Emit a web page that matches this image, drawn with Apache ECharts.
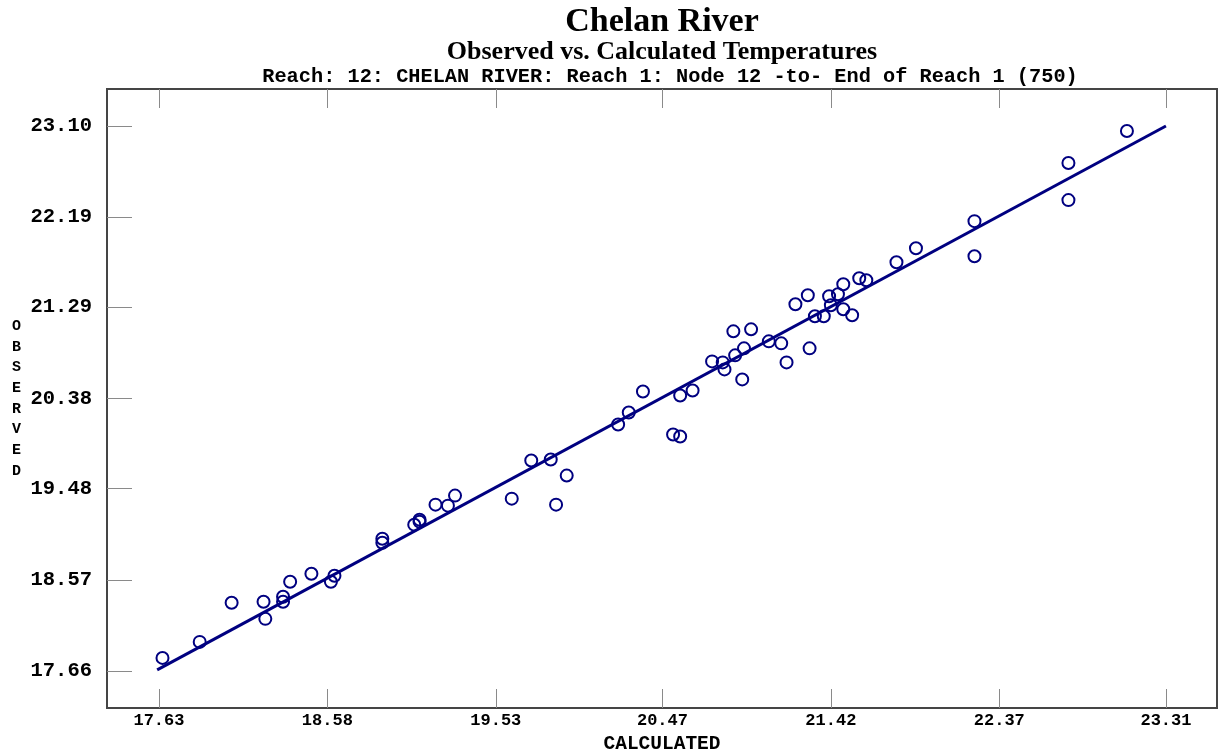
<!DOCTYPE html>
<html>
<head>
<meta charset="utf-8">
<script src="https://cdn.jsdelivr.net/npm/echarts@6/dist/echarts.min.js"></script>
<style>
html,body{margin:0;padding:0;background:#fff;}
#chart{width:1221px;height:749px;}
</style>
</head>
<body>
<div id="chart"></div>
<script>
// ---- data ----
var titleText = 'Chelan River';
var subtitleText = 'Observed vs. Calculated Temperatures';
var reachText = 'Reach: 12: CHELAN RIVER: Reach 1: Node 12 -to- End of Reach 1 (750)';
var xAxisName = 'CALCULATED';
var yAxisName = 'OBSERVED';

var xTickLabels = [17.63, 18.58, 19.53, 20.47, 21.42, 22.37, 23.31];
var yTickLabels = [17.66, 18.57, 19.48, 20.38, 21.29, 22.19, 23.10];

var calculated = [
  17.65, 17.86, 18.04, 18.22, 18.23, 18.33, 18.33, 18.37, 18.49, 18.60,
  18.62, 18.89, 18.89, 19.07, 19.10, 19.10, 19.19, 19.26, 19.30, 19.62,
  19.73, 19.84, 19.87, 19.93, 20.22, 20.28, 20.36, 20.53, 20.57, 20.57,
  20.64, 20.75, 20.81, 20.82, 20.87, 20.88, 20.92, 20.93, 20.97, 21.07,
  21.14, 21.17, 21.22, 21.29, 21.30, 21.33, 21.38, 21.41, 21.42, 21.46,
  21.49, 21.49, 21.54, 21.58, 21.62, 21.79, 21.90, 22.23, 22.23, 22.76,
  22.76, 23.09
];
var observed = [
  17.79, 17.95, 18.34, 18.35, 18.18, 18.40, 18.35, 18.55, 18.63, 18.55,
  18.61, 18.98, 18.94, 19.12, 19.17, 19.15, 19.32, 19.31, 19.41, 19.38,
  19.76, 19.77, 19.32, 19.61, 20.12, 20.24, 20.45, 20.02, 20.00, 20.41,
  20.46, 20.75, 20.74, 20.67, 21.05, 20.81, 20.57, 20.88, 21.07, 20.95,
  20.93, 20.74, 21.32, 21.41, 20.88, 21.20, 21.20, 21.40, 21.31, 21.42,
  21.52, 21.27, 21.21, 21.58, 21.56, 21.74, 21.88, 22.15, 21.80, 22.73,
  22.36, 23.05
];
var fitCalculated = [17.62, 23.31];
var fitObserved = [17.67, 23.10];

// ---- chart ----
var points = calculated.map(function (c, i) { return [c, observed[i]]; });
var fitLine = fitCalculated.map(function (c, i) { return [c, fitObserved[i]]; });

var navy = '#000080';
var tickColor = '#8a8a8a';
var monoFont = '"Liberation Mono", "DejaVu Sans Mono", monospace';
var serifFont = '"Liberation Serif", "DejaVu Serif", serif';

function fmt(v) { return Number(v).toFixed(2); }

var chart = echarts.init(document.getElementById('chart'), null, {renderer: 'canvas'});
chart.setOption({
  animation: false,
  backgroundColor: '#ffffff',
  graphic: [
    {type: 'text', x: 662, y: 22, silent: true,
     style: {text: titleText, textAlign: 'center', textVerticalAlign: 'middle',
             font: 'bold 34px ' + serifFont, fill: '#000'}},
    {type: 'text', x: 662, y: 52, silent: true,
     style: {text: subtitleText, textAlign: 'center', textVerticalAlign: 'middle',
             font: 'bold 26px ' + serifFont, fill: '#000'}},
    {type: 'text', x: 670, y: 77, silent: true,
     style: {text: reachText, textAlign: 'center', textVerticalAlign: 'middle',
             font: 'bold 20.3px ' + monoFont, fill: '#000'}}
  ],
  grid: {
    left: 107, top: 89, right: 4, bottom: 41, outerBoundsMode: 'none', containLabel: false,
    show: true, borderColor: '#454545', borderWidth: 2, backgroundColor: '#ffffff'
  },
  xAxis: [
    {
      type: 'value', position: 'bottom', min: 17.337, max: 23.598,
      name: xAxisName, nameLocation: 'middle', nameGap: 16,
      nameTextStyle: {fontFamily: monoFont, fontWeight: 'bold', fontSize: 19.5, color: '#000'},
      axisLine: {show: false},
      splitLine: {show: false},
      axisTick: {show: true, inside: true, length: 19, customValues: xTickLabels,
                 lineStyle: {color: tickColor, width: 1}},
      axisLabel: {show: true, customValues: xTickLabels, formatter: fmt, margin: 4,
                  fontFamily: monoFont, fontWeight: 'bold', fontSize: 17, color: '#000'}
    },
    {
      type: 'value', position: 'top', min: 17.337, max: 23.598,
      axisLine: {show: false},
      splitLine: {show: false},
      axisTick: {show: true, inside: true, length: 19, customValues: xTickLabels,
                 lineStyle: {color: tickColor, width: 1}},
      axisLabel: {show: false}
    }
  ],
  yAxis: {
    type: 'value', min: 17.29, max: 23.469,
    name: yAxisName.split('').join('\n'), nameLocation: 'middle', nameGap: 86, nameRotate: 0,
    nameTextStyle: {fontFamily: monoFont, fontWeight: 'bold', fontSize: 15, lineHeight: 20.7, color: '#000'},
    axisLine: {show: false},
    splitLine: {show: false},
    axisTick: {show: true, inside: true, length: 25, customValues: yTickLabels,
               lineStyle: {color: tickColor, width: 1}},
    axisLabel: {show: true, customValues: yTickLabels, formatter: fmt, margin: 15,
                fontFamily: monoFont, fontWeight: 'bold', fontSize: 20.5, color: '#000'}
  },
  series: [
    {
      type: 'line', data: fitLine, xAxisIndex: 0, yAxisIndex: 0,
      showSymbol: false, symbol: 'none',
      lineStyle: {color: navy, width: 3}, z: 2, silent: true
    },
    {
      type: 'scatter', data: points, xAxisIndex: 0, yAxisIndex: 0,
      symbol: 'circle', symbolSize: 12,
      itemStyle: {color: 'rgba(255,255,255,0)', borderColor: navy, borderWidth: 2, opacity: 1},
      z: 3
    }
  ]
});
</script>
</body>
</html>
